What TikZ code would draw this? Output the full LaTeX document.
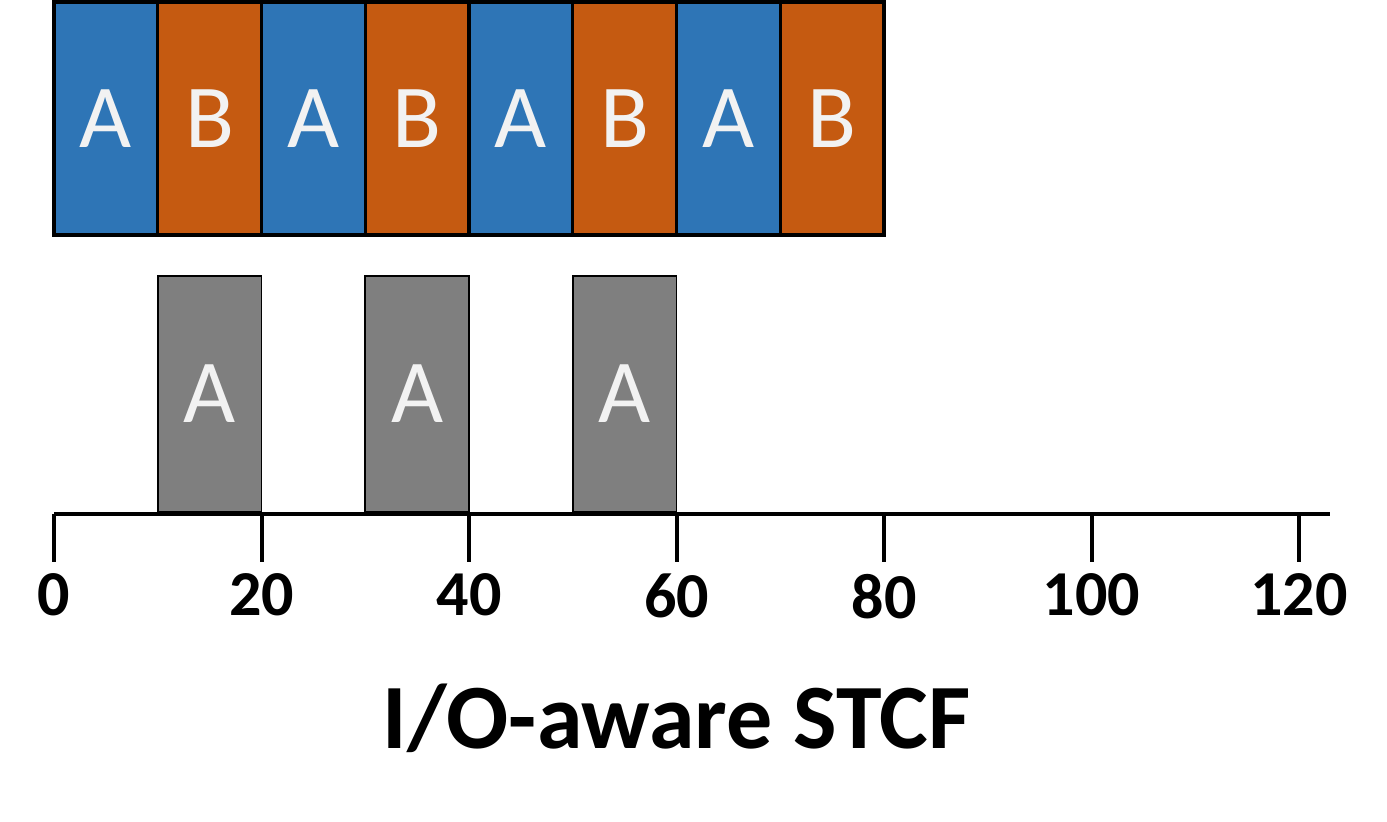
\documentclass[tikz,border=0pt]{standalone}
\usepackage{fontspec}
\setmainfont{Carlito}
\usepackage{xcolor}
\usetikzlibrary{positioning}
\definecolor{jobblue}{HTML}{2E75B6}
\definecolor{joborange}{HTML}{C55A11}
\definecolor{iogray}{HTML}{7F7F7F}
\definecolor{jobtext}{HTML}{F2F2F2}

\begin{document}
\begin{tikzpicture}[x=5.1875pt,y=-0.5pt,
  cpuslot/.style={draw,line width=1.6pt,minimum width=51.875pt,minimum height=116.5pt,
    inner sep=0pt,text=jobtext,font=\fontsize{45}{54}\selectfont},
  ioslot/.style={draw,line width=0.8pt,fill=iogray,minimum width=51.875pt,minimum height=118pt,
    inner sep=0pt,text=jobtext,font=\fontsize{45}{54}\selectfont},
  ticklabel/.style={font=\bfseries\fontsize{32}{38}\selectfont,inner sep=0pt}]
\useasboundingbox (-5.205,0) rectangle (128.48,821);
% CPU schedule
\foreach \i/\n/\c in {0/A/jobblue,1/B/joborange,2/A/jobblue,3/B/joborange,
                      4/A/jobblue,5/B/joborange,6/A/jobblue,7/B/joborange}
  \node[cpuslot,fill=\c] (cpu\i) at (10*\i+5,118.5) {\n};
% I/O of job A
\foreach \i/\x in {1/15,2/35,3/55}
  \node[ioslot] (io\i) at (\x,394) {A};
% time axis
\coordinate (t0) at (0,514);
\coordinate (tend) at (123,514);
\draw[line width=2pt] (t0) -- (tend);
\foreach \t in {0,20,...,120}{
  \coordinate (tick\t) at (\t,514);
  \draw[line width=2pt] (tick\t) -- ++(0,48) node[ticklabel,below=5pt] (lbl\t) {\t};
}
\node[font=\bfseries\fontsize{46}{55}\selectfont] (title) at (60,718) {I/O-aware STCF};
\end{tikzpicture}
\end{document}
